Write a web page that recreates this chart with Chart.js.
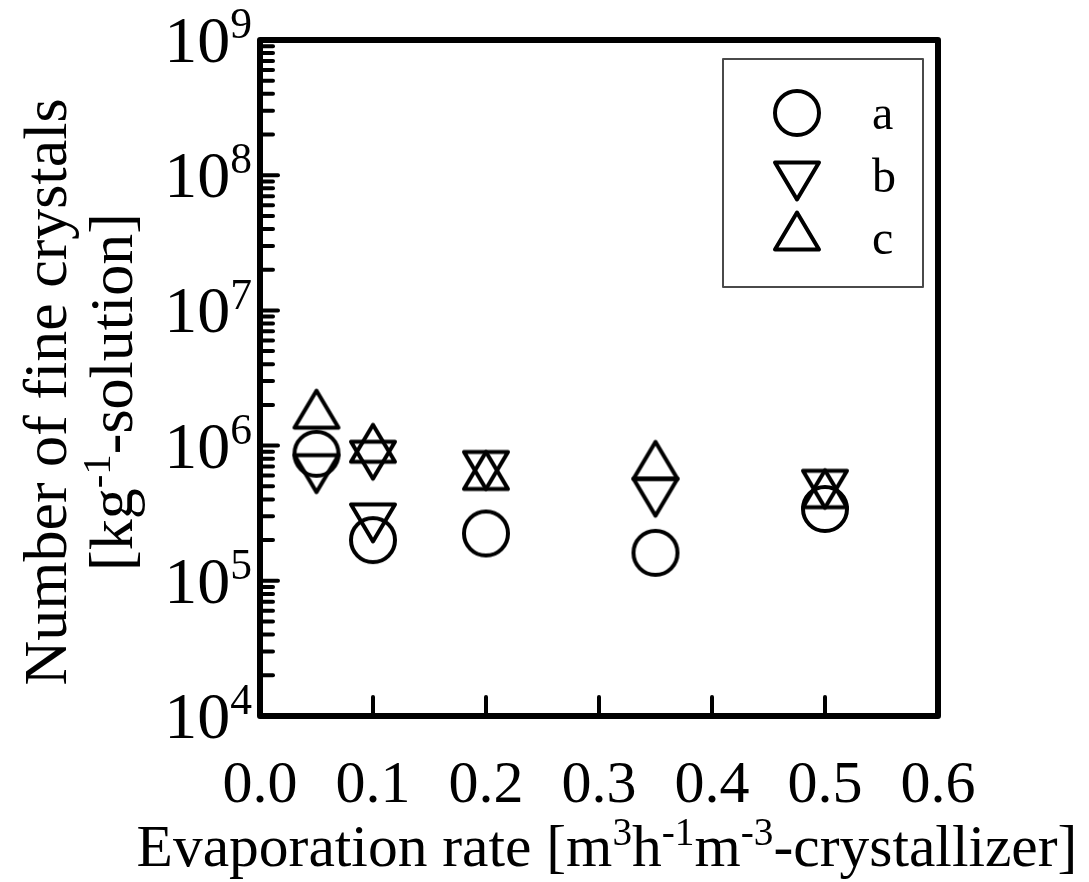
<!DOCTYPE html>
<html>
<head>
<meta charset="utf-8">
<script src="https://cdn.jsdelivr.net/npm/chart.js@4/dist/chart.umd.min.js"></script>
<style>
  html, body { margin: 0; padding: 0; background: #fff; }
  #wrap { width: 1089px; height: 882px; }
</style>
</head>
<body>
<div id="wrap"><canvas id="chart" width="1089" height="882"></canvas></div>
<script>
// Evaporation rate [m3 h-1 m-3-crystallizer] and number of fine crystals [kg-1-solution]
const seriesLabels = ['a', 'b', 'c'];

const rateA  = [0.05, 0.1, 0.2, 0.35, 0.5];
const countA = [8.7e5, 2.0e5, 2.24e5, 1.61e5, 3.4e5];

const rateB  = [0.05, 0.1, 0.1, 0.2, 0.35, 0.5];
const countB = [6.2e5, 7.8e5, 2.68e5, 6.55e5, 4.15e5, 4.75e5];

const rateC  = [0.05, 0.1, 0.2, 0.35, 0.5];
const countC = [1.86e6, 1.04e6, 6.55e5, 7.78e5, 4.8e5];

const xTickValues = [0, 0.1, 0.2, 0.3, 0.4, 0.5, 0.6];
const yExponents  = [4, 5, 6, 7, 8, 9];

const xTitleParts = [
  { t: 'Evaporation rate [m' }, { t: '3', sup: true }, { t: 'h' }, { t: '-1', sup: true },
  { t: 'm' }, { t: '-3', sup: true }, { t: '-crystallizer]' }
];
const yTitleLine1 = [{ t: 'Number of fine crystals' }];
const yTitleLine2 = [{ t: '[kg' }, { t: '-1', sup: true }, { t: '-solution]' }];

const FONT = "'Liberation Serif', 'Times New Roman', serif";

// Hollow marker glyphs, centred on their own box
function makeMarker(kind) {
  const s = 56, m = s / 2;
  const cv = document.createElement('canvas');
  cv.width = s; cv.height = s;
  const g = cv.getContext('2d');
  g.strokeStyle = '#000';
  g.lineWidth = 4;
  g.lineJoin = 'round';
  g.beginPath();
  if (kind === 'circle') {
    g.arc(m, m, 22, 0, Math.PI * 2);
  } else if (kind === 'up') {
    g.moveTo(m, m - 18.5);
    g.lineTo(m + 22, m + 18.5);
    g.lineTo(m - 22, m + 18.5);
    g.closePath();
  } else {
    g.moveTo(m - 22, m - 18.5);
    g.lineTo(m + 22, m - 18.5);
    g.lineTo(m, m + 18.5);
    g.closePath();
  }
  g.stroke();
  return cv;
}
const markers = [makeMarker('circle'), makeMarker('down'), makeMarker('up')];

function toPoints(xs, ys) { return xs.map((x, i) => ({ x: x, y: ys[i] })); }

// Text with superscript runs
function richWidth(ctx, parts, size) {
  let w = 0;
  for (const p of parts) {
    ctx.font = (p.sup ? size * 0.66 : size) + 'px ' + FONT;
    w += ctx.measureText(p.t).width;
  }
  return w;
}
function drawRich(ctx, parts, x, y, size, align) {
  const w = richWidth(ctx, parts, size);
  let cx = align === 'center' ? x - w / 2 : (align === 'right' ? x - w : x);
  ctx.textBaseline = 'alphabetic';
  ctx.textAlign = 'left';
  for (const p of parts) {
    const fs = p.sup ? size * 0.66 : size;
    ctx.font = fs + 'px ' + FONT;
    ctx.fillText(p.t, cx, p.sup ? y - size * 0.36 : y);
    cx += ctx.measureText(p.t).width;
  }
}

const framePlugin = {
  id: 'frameAndText',
  afterDatasetsDraw(chart) {
    const { ctx, chartArea: a, scales } = chart;
    const xs = scales.x, ys = scales.y;
    ctx.save();
    ctx.fillStyle = '#000';
    ctx.strokeStyle = '#000';

    // inward tick marks on the value axis (decades and 2..9 subdivisions)
    ctx.lineWidth = 4;
    ctx.lineCap = 'round';
    for (let i = 0; i < yExponents.length; i++) {
      const e = yExponents[i];
      const py = ys.getPixelForValue(Math.pow(10, e));
      ctx.beginPath(); ctx.moveTo(a.left, py); ctx.lineTo(a.left + 18, py); ctx.stroke();
      if (i < yExponents.length - 1) {
        for (let k = 2; k <= 9; k++) {
          const pm = ys.getPixelForValue(k * Math.pow(10, e));
          ctx.beginPath(); ctx.moveTo(a.left, pm); ctx.lineTo(a.left + 13, pm); ctx.stroke();
        }
      }
    }
    // inward tick marks on the rate axis
    for (const v of xTickValues) {
      const px = xs.getPixelForValue(v);
      ctx.beginPath(); ctx.moveTo(px, a.bottom); ctx.lineTo(px, a.bottom - 19); ctx.stroke();
    }

    // plot frame
    ctx.lineWidth = 6;
    ctx.lineJoin = 'round';
    ctx.lineCap = 'butt';
    ctx.strokeRect(a.left, a.top, a.right - a.left, a.bottom - a.top);

    // decade labels 10^n
    for (const e of yExponents) {
      const py = ys.getPixelForValue(Math.pow(10, e));
      drawRich(ctx, [{ t: '10' }, { t: String(e), sup: true }], 252, py + 22, 66, 'right');
    }

    // axis titles
    const midY = (a.top + a.bottom) / 2 + 14;
    drawRich(ctx, xTitleParts, 607, 866, 59.5, 'center');
    ctx.save();
    ctx.rotate(-Math.PI / 2);
    drawRich(ctx, yTitleLine1, -midY, 66, 62, 'center');
    drawRich(ctx, yTitleLine2, -midY, 132, 62, 'center');
    ctx.restore();

    // legend
    const box = { x: 723, y: 59, w: 200, h: 228 };
    ctx.lineWidth = 2;
    ctx.strokeStyle = '#4a4a4a';
    ctx.strokeRect(box.x, box.y, box.w, box.h);
    const markerY = [113, 181, 231];
    const labelY = [129, 192, 254];
    chart.data.datasets.forEach((ds, i) => {
      const img = ds.pointStyle;
      ctx.drawImage(img, 797 - img.width / 2, markerY[i] - img.height / 2);
      ctx.fillStyle = '#000';
      ctx.font = '48px ' + FONT;
      ctx.textAlign = 'left';
      ctx.textBaseline = 'alphabetic';
      ctx.fillText(ds.label, 872, labelY[i]);
    });
    ctx.restore();
  }
};

new Chart(document.getElementById('chart'), {
  type: 'scatter',
  data: {
    datasets: [
      { label: seriesLabels[0], data: toPoints(rateA, countA), pointStyle: markers[0], pointRadius: 24, borderColor: '#000', backgroundColor: 'transparent' },
      { label: seriesLabels[1], data: toPoints(rateB, countB), pointStyle: markers[1], pointRadius: 24, borderColor: '#000', backgroundColor: 'transparent' },
      { label: seriesLabels[2], data: toPoints(rateC, countC), pointStyle: markers[2], pointRadius: 24, borderColor: '#000', backgroundColor: 'transparent' }
    ]
  },
  options: {
    responsive: false,
    animation: false,
    devicePixelRatio: 1,
    layout: { padding: { left: 0, top: 40, right: 151, bottom: 0 } },
    plugins: { legend: { display: false }, tooltip: { enabled: false } },
    scales: {
      x: {
        type: 'linear',
        min: 0, max: 0.6,
        afterFit: (s) => { s.height = 166; },
        afterBuildTicks: (s) => { s.ticks = xTickValues.map(v => ({ value: v })); },
        grid: { display: false, drawTicks: false },
        border: { display: false },
        ticks: {
          autoSkip: false, maxRotation: 0, padding: 34,
          color: '#000',
          font: { family: FONT, size: 60 },
          callback: (v) => Number(v).toFixed(1)
        }
      },
      y: {
        type: 'logarithmic',
        min: 1e4, max: 1e9,
        afterFit: (s) => { s.width = 260; },
        grid: { display: false, drawTicks: false },
        border: { display: false },
        ticks: { display: false }
      }
    }
  },
  plugins: [framePlugin]
});
</script>
</body>
</html>
